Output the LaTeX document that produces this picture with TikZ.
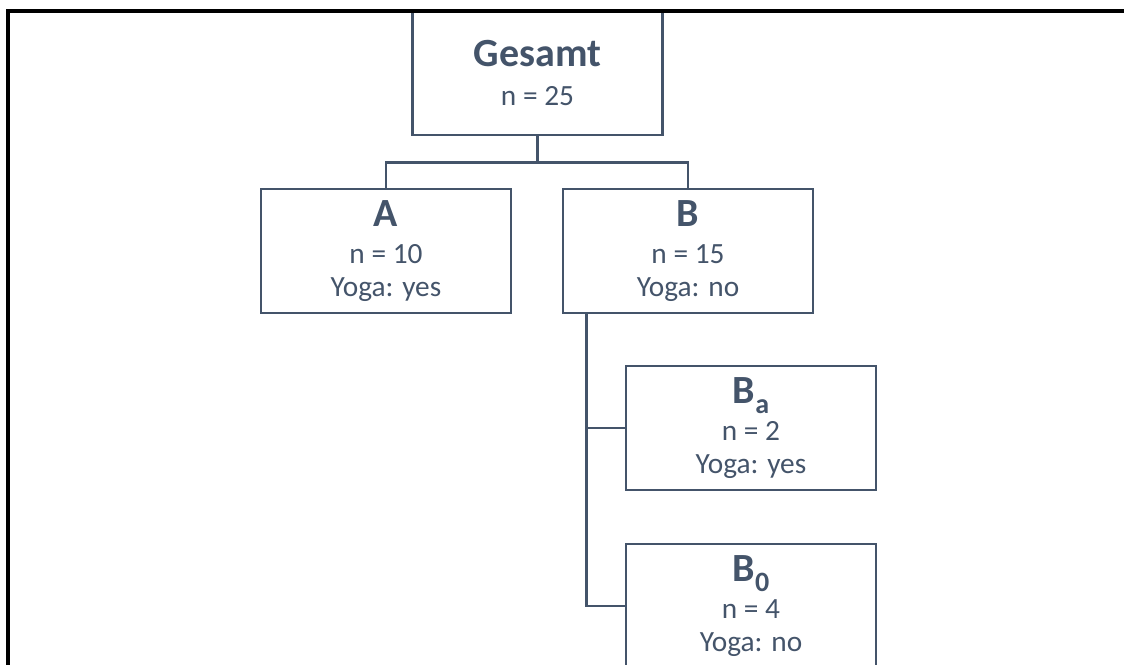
\documentclass[tikz,border=0pt]{standalone}
\usepackage{fontspec}
\setmainfont{Carlito}
\definecolor{slate}{HTML}{44546A}
\newcommand{\boxtitle}[1]{{\fontsize{30}{30}\selectfont\bfseries #1}}
\newcommand{\lowsub}[1]{\raisebox{-7.5pt}{\fontsize{21}{21}\selectfont #1}}

\begin{document}
\begin{tikzpicture}[x=0.75pt, y=-0.75pt,
    group/.style={draw=slate, line width=1.9pt, inner sep=0pt, minimum width=187.5pt, minimum height=93pt,
      align=center, text=slate, font=\fontsize{22}{24.75}\selectfont},
    link/.style={draw=slate, line width=1.9pt}]
      \clip (0,0) rectangle (1124,664);

      \node[group] (gesamt) at (537.5,73) {\boxtitle{Gesamt}\\[4pt] n = 25};
      \node[group] (a) at (386,251) {\boxtitle{A}\\[3pt] n = 10\\ Yoga: yes};
      \node[group] (b) at (688,251) {\boxtitle{B}\\[3pt] n = 15\\ Yoga: no};
      \node[group] (ba) at (751,428) {\boxtitle{B\lowsub{a}}\\[3pt] n = 2\\ Yoga: yes};
      \node[group] (b0) at (751,606) {\boxtitle{B\lowsub{0}}\\[3pt] n = 4\\ Yoga: no};

      \draw[link] (gesamt.south) -- ++(0,26) -| (a.north);
      \draw[link] (gesamt.south) -- ++(0,26) -| (b.north);
      \draw[link] ([xshift=18.75pt]b.south west) |- (ba.west);
      \draw[link] ([xshift=18.75pt]b.south west) |- (b0.west);

      % open frame, left and top edge only
      \draw[line width=2.4pt] (8,670) -- (8,11) -- (1130,11);
    \end{tikzpicture}
\end{document}
